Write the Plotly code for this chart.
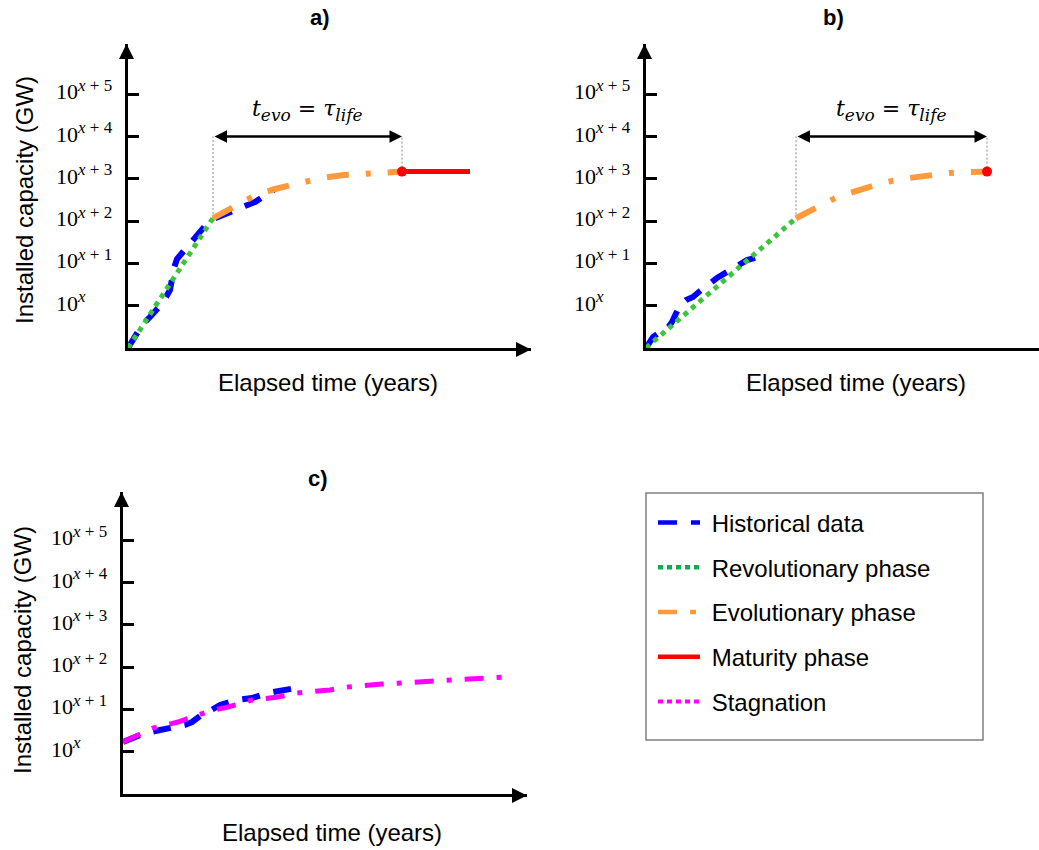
import math
import plotly.graph_objects as go

W, H = 1039, 850

# ---------------- data (time in years, capacity in units of 10^x GW) ----------------
# a) revolutionary -> evolutionary -> maturity
a_hist_t = [0, 0.3, 0.7, 1.4, 2.2, 2.9, 3.5, 4.2, 4.4, 4.6, 4.9, 5.5, 6.4, 7.2, 7.7, 8.5,
            9.6, 10.7, 11.7, 12.7, 13.7, 14.7]
a_hist_cap = [0.1, 0.13, 0.2, 0.35, 0.54, 0.79, 1.2, 2.35, 4.5, 7.8, 12.7, 18.6, 30, 52, 77, 112,
              139, 173, 228, 283, 392, 574]
a_rev_t = [0, 2, 4, 6, 8.5]
a_rev_cap = [0.1, 0.53, 2.8, 14.7, 118]
a_evo_t = [8.5, 10.7, 12.6, 14.7, 17.2, 19.3, 21.6, 24.0, 26.2, 27.4]
a_evo_cap = [118, 215, 392, 574, 796, 1045, 1230, 1371, 1449, 1480]
a_mat_t = [27.4, 34.2]
a_mat_cap = [1480, 1480]

# b) revolutionary -> evolutionary
b_hist_t = [0, 0.2, 0.7, 1.4, 2.1, 2.6, 3.1, 3.4, 4.0, 4.7, 5.4, 6.1, 7.1, 8.1, 9.1, 10.1, 11.2]
b_hist_cap = [0.1, 0.118, 0.182, 0.239, 0.281, 0.412, 0.672, 1.04, 1.36, 1.61, 2.23, 3.08,
              4.52, 6.26, 8.69, 12.0, 14.2]
b_rev_t = [0, 5, 10, 15]
b_rev_cap = [0.1, 1.05, 11, 117]
b_evo_t = [15, 17.1, 19.1, 21.4, 23.6, 25.7, 28.1, 30.4, 32.7, 34.1]
b_evo_cap = [117, 214, 370, 545, 800, 1000, 1200, 1380, 1450, 1480]

# c) stagnation
c_hist_t = [0, 1.7, 3.7, 5.5, 6.2, 6.9, 7.7, 8.5, 9.7, 11.4, 12.9, 14.5, 16.2, 17.9]
c_hist_cap = [1.69, 2.48, 3.26, 3.84, 4.28, 5.03, 6.98, 8.7, 12.7, 16.7, 18.6, 24.4, 28.8, 33.9]
c_stag_t = [0, 3.0, 5.5, 7.2, 8.7, 10.5, 12.9, 15.5, 17.4, 20.7, 22.5, 25.9, 27.7, 31.0, 32.9,
            36.2, 38.2]
c_stag_cap = [1.69, 3.63, 5.03, 6.98, 9.2, 11.4, 16.7, 19.6, 24.4, 28.8, 33.9, 39.8, 42.1, 46.9,
              52.4, 55.2, 58.3]

# level of the t_evo = tau_life span arrow
span_level = 1e4

# y-axis ticks: base "10" with a raised exponent
tick_vals = [1, 10, 100, 1e3, 1e4, 1e5]
tick_base = "10"
tick_exp = ["<i>x</i>", "<i>x</i> + 1", "<i>x</i> + 2", "<i>x</i> + 3", "<i>x</i> + 4", "<i>x</i> + 5"]

legend_names = ["Historical data", "Revolutionary phase", "Evolutionary phase",
                "Maturity phase", "Stagnation"]

# ---------------- styles ----------------
BLUE = "#0000ff"
GREEN = "#3cc43c"
ORANGE = "#ff9a3c"
RED = "#ff0000"
MAGENTA = "#ff00ff"
SANS = "Liberation Sans, Arial, sans-serif"
SERIF = "Liberation Serif, Times New Roman, serif"
MATH = "DejaVu Serif, serif"

hist_style = dict(color=BLUE, width=6, dash="18px,14px")
rev_style = dict(color=GREEN, width=5, dash="5px,5px")
evo_style = dict(color=ORANGE, width=6, dash="22px,17px,5px,17px")
mat_style = dict(color=RED, width=5)
stag_style = dict(color=MAGENTA, width=5, dash="19px,13px,5px,13px")
guide_style = dict(color="#888888", width=1, dash="2px,2px")

fig = go.Figure()


def line(x, y, style, xa, ya):
    fig.add_trace(go.Scatter(x=x, y=y, mode="lines", line=style, showlegend=False,
                             hoverinfo="skip", xaxis=xa, yaxis=ya))


# panel a
line([a_evo_t[0]] * 2, [a_evo_cap[0], span_level], guide_style, "x", "y")
line([a_evo_t[-1]] * 2, [a_evo_cap[-1], span_level], guide_style, "x", "y")
line(a_hist_t, a_hist_cap, hist_style, "x", "y")
line(a_rev_t, a_rev_cap, rev_style, "x", "y")
line(a_evo_t, a_evo_cap, evo_style, "x", "y")
line(a_mat_t, a_mat_cap, mat_style, "x", "y")
fig.add_trace(go.Scatter(x=[a_evo_t[-1]], y=[a_evo_cap[-1]], mode="markers",
                         marker=dict(color=RED, size=10), showlegend=False,
                         hoverinfo="skip", xaxis="x", yaxis="y"))

# panel b
line([b_evo_t[0]] * 2, [b_evo_cap[0], span_level], guide_style, "x2", "y2")
line([b_evo_t[-1]] * 2, [b_evo_cap[-1], span_level], guide_style, "x2", "y2")
line(b_hist_t, b_hist_cap, hist_style, "x2", "y2")
line(b_rev_t, b_rev_cap, rev_style, "x2", "y2")
line(b_evo_t, b_evo_cap, evo_style, "x2", "y2")
fig.add_trace(go.Scatter(x=[b_evo_t[-1]], y=[b_evo_cap[-1]], mode="markers",
                         marker=dict(color=RED, size=10), showlegend=False,
                         hoverinfo="skip", xaxis="x2", yaxis="y2"))

# panel c
line(c_hist_t, c_hist_cap, hist_style, "x3", "y3")
line(c_stag_t, c_stag_cap, stag_style, "x3", "y3")

# legend entries
legend_styles = [
    dict(color=BLUE, width=4.5, dash="19px,14px"),
    dict(color="#00b050", width=4.5, dash="5px,4px"),
    dict(color=ORANGE, width=4.5, dash="19px,13px,6px,13px"),
    dict(color=RED, width=4.5),
    dict(color=MAGENTA, width=4, dash="5px,4px"),
]
for name, st in zip(legend_names, legend_styles):
    fig.add_trace(go.Scatter(x=[None], y=[None], mode="lines", line=st,
                             name="\u00a0" + name, legendgroup=name, showlegend=True,
                             xaxis="x3", yaxis="y3"))

# ---------------- axes ----------------
PX_PER_DECADE = 42.3


def yaxis_dict(top_px, bottom_px, anchor):
    return dict(type="log", domain=[1 - bottom_px / H, 1 - top_px / H],
                range=[-1, (bottom_px - top_px) / PX_PER_DECADE - 1],
                showline=True, linewidth=3, linecolor="black",
                ticks="inside", ticklen=11, tickwidth=3, tickcolor="black",
                tickvals=tick_vals, showticklabels=False,
                showgrid=False, zeroline=False, anchor=anchor, fixedrange=True)


def xaxis_dict(left_px, right_px, anchor):
    return dict(domain=[left_px / W, min(right_px / W, 1.0)],
                range=[0, (right_px - left_px) / 10.0],
                showline=True, linewidth=3, linecolor="black",
                ticks="", showticklabels=False, showgrid=False, zeroline=False,
                anchor=anchor, fixedrange=True)


fig.update_layout(
    width=W, height=H,
    margin=dict(l=0, r=0, t=0, b=0),
    paper_bgcolor="white", plot_bgcolor="white",
    xaxis=xaxis_dict(128, 531, "y"),
    yaxis=yaxis_dict(44, 348, "x"),
    xaxis2=xaxis_dict(646, 1039, "y2"),
    yaxis2=yaxis_dict(44, 348, "x2"),
    xaxis3=xaxis_dict(123, 527, "y3"),
    yaxis3=yaxis_dict(492, 794, "x3"),
    showlegend=True,
    legend=dict(x=653 / W, y=1 - 500.5 / H, xanchor="left", yanchor="top",
                bgcolor="rgba(0,0,0,0)", borderwidth=0,
                font=dict(family=SANS, size=24, color="black"),
                tracegroupgap=10.5, itemwidth=42, traceorder="grouped"),
)

# legend frame
fig.add_shape(type="rect", xref="paper", yref="paper",
              x0=646 / W, x1=983 / W, y0=1 - 740 / H, y1=1 - 493 / H,
              line=dict(color="#808080", width=1.5), fillcolor="rgba(0,0,0,0)")

ann = []

# axis arrowheads
for xs, ys, has_x_arrow in [("x", "y", True), ("x2", "y2", False), ("x3", "y3", True)]:
    ann.append(dict(xref=xs + " domain", yref=ys + " domain", x=0, y=1, xshift=-1.5,
                    ax=0, ay=14, showarrow=True, arrowhead=2, arrowsize=1,
                    arrowwidth=3, arrowcolor="black", text=""))
    if has_x_arrow:
        ann.append(dict(xref=xs + " domain", yref=ys + " domain", x=1, y=0, yshift=-1.5,
                        ax=-14, ay=0, showarrow=True, arrowhead=2, arrowsize=1,
                        arrowwidth=3, arrowcolor="black", text=""))

# tick labels, left aligned next to each y axis
for xs, ys in [("x", "y"), ("x2", "y2"), ("x3", "y3")]:
    for v, e in zip(tick_vals, tick_exp):
        ann.append(dict(xref=xs + " domain", yref=ys, x=0, y=math.log10(v),
                        xanchor="left", yanchor="middle", xshift=-74, yshift=2.5,
                        text=tick_base, showarrow=False,
                        font=dict(family=SERIF, size=22, color="black")))
        ann.append(dict(xref=xs + " domain", yref=ys, x=0, y=math.log10(v),
                        xanchor="left", yanchor="middle", xshift=-53, yshift=9,
                        text=e, showarrow=False,
                        font=dict(family=SERIF, size=17, color="black")))

# t_evo = tau_life span arrows
span_label = ('<i>t</i><sub><span style="font-size:17px"><i>evo</i></span></sub> = '
              '<i>τ</i><sub><span style="font-size:17px"><i>life</i></span></sub>')
for xs, ys, t0, t1 in [("x", "y", a_evo_t[0], a_evo_t[-1]), ("x2", "y2", b_evo_t[0], b_evo_t[-1])]:
    ann.append(dict(xref=xs, yref=ys, x=t1, y=math.log10(span_level),
                    axref=xs, ayref=ys, ax=t0, ay=math.log10(span_level),
                    showarrow=True, arrowhead=2, startarrowhead=2, arrowside="end+start",
                    arrowsize=1, startarrowsize=1, arrowwidth=2.5, arrowcolor="black",
                    text=""))
    ann.append(dict(xref=xs, yref=ys, x=(t0 + t1) / 2, y=math.log10(span_level),
                    yshift=26, showarrow=False, text=span_label,
                    font=dict(family=MATH, size=22, color="black")))

# panel titles
for text, xp, yp in [("<b>a)</b>", 320, 18), ("<b>b)</b>", 833, 18), ("<b>c)</b>", 318, 478)]:
    ann.append(dict(xref="paper", yref="paper", x=xp / W, y=1 - yp / H, text=text,
                    showarrow=False, xanchor="center", yanchor="middle",
                    font=dict(family=SANS, size=22, color="black")))

# axis titles
for xp, yp in [(328, 382), (856, 382), (332, 832)]:
    ann.append(dict(xref="paper", yref="paper", x=xp / W, y=1 - yp / H,
                    text="Elapsed time (years)", showarrow=False,
                    xanchor="center", yanchor="middle",
                    font=dict(family=SANS, size=24, color="black")))
for xp, yp in [(24, 200), (22, 650)]:
    ann.append(dict(xref="paper", yref="paper", x=xp / W, y=1 - yp / H,
                    text="Installed capacity (GW)", showarrow=False, textangle=-90,
                    xanchor="center", yanchor="middle",
                    font=dict(family=SANS, size=24, color="black")))

fig.update_layout(annotations=ann)

fig.write_html("out.html")
